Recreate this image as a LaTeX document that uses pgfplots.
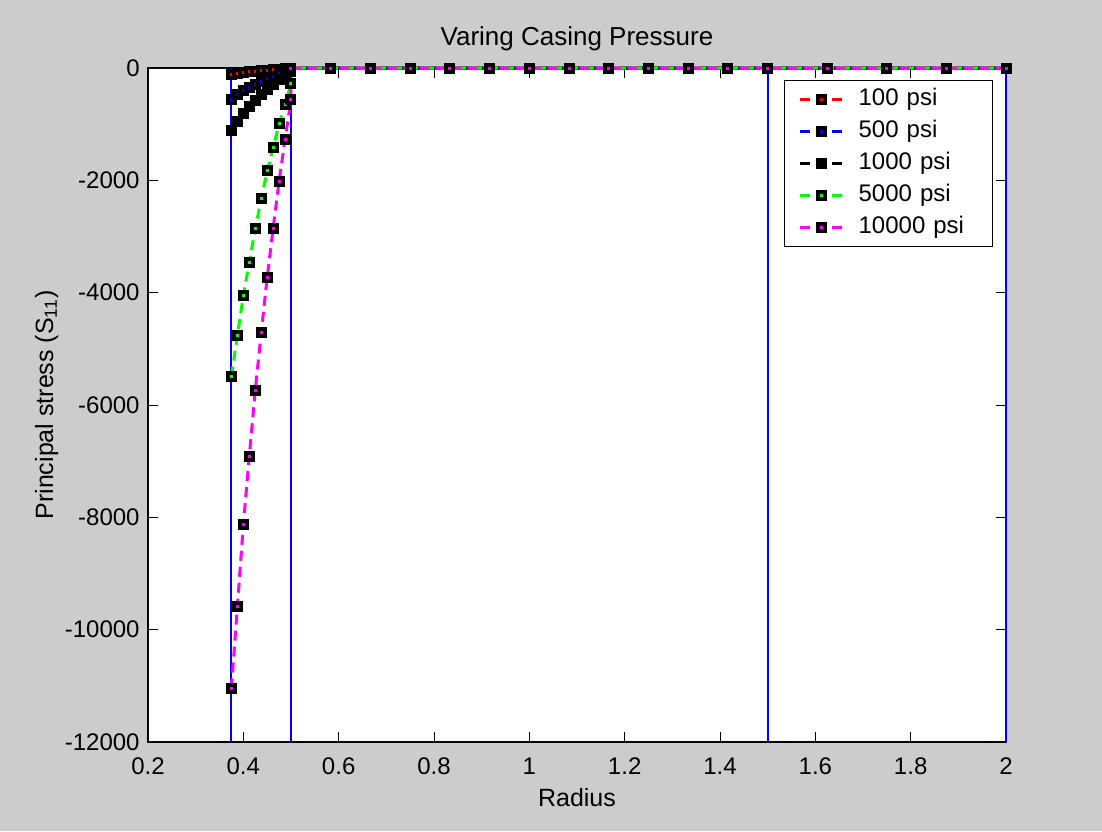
\documentclass[border=0pt]{standalone}
\usepackage{fontspec}
\setmainfont{Liberation Sans}
\usepackage{pgfplots}
\pgfplotsset{compat=1.18}
\definecolor{figbg}{RGB}{204,204,204}
\definecolor{mred}{RGB}{255,0,0}
\definecolor{mblue}{RGB}{0,0,255}
\definecolor{mgreen}{RGB}{0,255,0}
\definecolor{mmag}{RGB}{255,0,255}
\pgfplotsset{
  ser/.style={color=#1, line width=1.5pt, dash pattern=on 5pt off 3pt,
    mark=square*, mark size=1.75pt,
    mark options={solid, draw=black, fill=#1, line width=2pt}},
  vline/.style={draw=mblue, line width=1pt, solid, mark=none, forget plot},
}
\begin{document}
\fontsize{12}{14}\selectfont
\begin{tikzpicture}
\fill[figbg] (-74pt,-44.5pt) rectangle (477pt,371pt);
\begin{axis}[
  at={(0,0)}, anchor=south west,
  scale only axis, width=429pt, height=337pt,
  xmin=0.2, xmax=2, ymin=-12000, ymax=0,
  xtick={0.2,0.4,...,2.01}, ytick={-12000,-10000,...,0},
  scaled y ticks=false, scaled x ticks=false,
  xticklabels={0.2,0.4,0.6,0.8,1,1.2,1.4,1.6,1.8,2},
  yticklabels={-12000,-10000,-8000,-6000,-4000,-2000,0},
  tick align=inside, major tick length=5pt,
  every tick/.style={black, line width=0.5pt},
  axis line style={black, line width=0.6pt},
  axis background/.style={fill=white},
  ticklabel style={font=\fontsize{12}{14}\selectfont},
  xticklabel style={anchor=base, yshift=-16pt},
  yticklabel style={anchor=east, inner sep=4pt},
  title={Varing Casing Pressure},
  title style={at={(axis description cs:0.5,1)}, anchor=base, yshift=5.5pt, inner sep=0pt, font=\fontsize{13}{15}\selectfont},
  xlabel={Radius},
  xlabel style={at={(axis description cs:0.5,-0.083)}, anchor=center, font=\fontsize{12.5}{15}\selectfont},
  ylabel={Principal stress (S\textsubscript{11})},
  ylabel style={at={(axis description cs:-0.118,0.5)}, anchor=center, font=\fontsize{12.5}{15}\selectfont},
  clip=false,
  legend image code/.code={\draw[mark repeat=2,mark phase=2] plot coordinates {(0pt,0pt) (10.75pt,0pt) (21.5pt,0pt)};},
  legend style={at={(0.985,0.982)}, anchor=north east, draw=black, line width=0.5pt, fill=white,
    font=\fontsize{12}{14}\selectfont, inner xsep=7pt, inner ysep=3.5pt, row sep=4pt,
    nodes={inner ysep=0pt, text height=9pt, text depth=3pt},
    /tikz/every even column/.append style={inner xsep=0pt, text width=58pt},
    /tikz/every odd column/.append style={column sep=5pt},
    cells={anchor=west}},
]
\addplot[vline] coordinates {(0.375,-12000) (0.375,0)};
\addplot[vline] coordinates {(0.5,-12000) (0.5,0)};
\addplot[vline] coordinates {(1.5,-12000) (1.5,0)};
\addplot[vline] coordinates {(2,-12000) (2,0)};

\addplot[ser=mred] coordinates {
(0.375,-110) (0.3875,-96) (0.4,-81) (0.4125,-69) (0.425,-57) (0.4375,-47) (0.45,-37) (0.4625,-29) (0.475,-20) (0.4875,-13) (0.5,-6)
(0.5,0) (0.58333,0) (0.66667,0) (0.75,0) (0.83333,0) (0.91667,0) (1,0) (1.08333,0) (1.16667,0) (1.25,0) (1.33333,0) (1.41667,0) (1.5,0)
(1.625,0) (1.75,0) (1.875,0) (2,0)};
\addlegendentry{100 psi}
\addplot[ser=mblue] coordinates {
(0.375,-552) (0.3875,-480) (0.4,-407) (0.4125,-346) (0.425,-287) (0.4375,-236) (0.45,-187) (0.4625,-143) (0.475,-101) (0.4875,-63) (0.5,-28)
(0.5,0) (0.58333,0) (0.66667,0) (0.75,0) (0.83333,0) (0.91667,0) (1,0) (1.08333,0) (1.16667,0) (1.25,0) (1.33333,0) (1.41667,0) (1.5,0)
(1.625,0) (1.75,0) (1.875,0) (2,0)};
\addlegendentry{500 psi}
\addplot[ser=black] coordinates {
(0.375,-1105) (0.3875,-959) (0.4,-814) (0.4125,-691) (0.425,-574) (0.4375,-472) (0.45,-374) (0.4625,-285) (0.475,-202) (0.4875,-127) (0.5,-57)
(0.5,0) (0.58333,0) (0.66667,0) (0.75,0) (0.83333,0) (0.91667,0) (1,0) (1.08333,0) (1.16667,0) (1.25,0) (1.33333,0) (1.41667,0) (1.5,0)
(1.625,0) (1.75,0) (1.875,0) (2,0)};
\addlegendentry{1000 psi}
\addplot[ser=mgreen] coordinates {
(0.375,-5491) (0.3875,-4762) (0.4,-4056) (0.4125,-3456) (0.425,-2864) (0.4375,-2330) (0.45,-1832) (0.4625,-1423) (0.475,-996) (0.4875,-646) (0.5,-280)
(0.5,0) (0.58333,0) (0.66667,0) (0.75,0) (0.83333,0) (0.91667,0) (1,0) (1.08333,0) (1.16667,0) (1.25,0) (1.33333,0) (1.41667,0) (1.5,0)
(1.625,0) (1.75,0) (1.875,0) (2,0)};
\addlegendentry{5000 psi}
\addplot[ser=mmag] coordinates {
(0.375,-11046) (0.3875,-9590) (0.4,-8135) (0.4125,-6910) (0.425,-5742) (0.4375,-4715) (0.45,-3735) (0.4625,-2853) (0.475,-2017) (0.4875,-1268) (0.5,-569)
(0.5,0) (0.58333,0) (0.66667,0) (0.75,0) (0.83333,0) (0.91667,0) (1,0) (1.08333,0) (1.16667,0) (1.25,0) (1.33333,0) (1.41667,0) (1.5,0)
(1.625,0) (1.75,0) (1.875,0) (2,0)};
\addlegendentry{10000 psi}
\end{axis}
\pgfresetboundingbox
\path[use as bounding box] (-74pt,-44.5pt) rectangle (477pt,371pt);
\end{tikzpicture}
\end{document}
